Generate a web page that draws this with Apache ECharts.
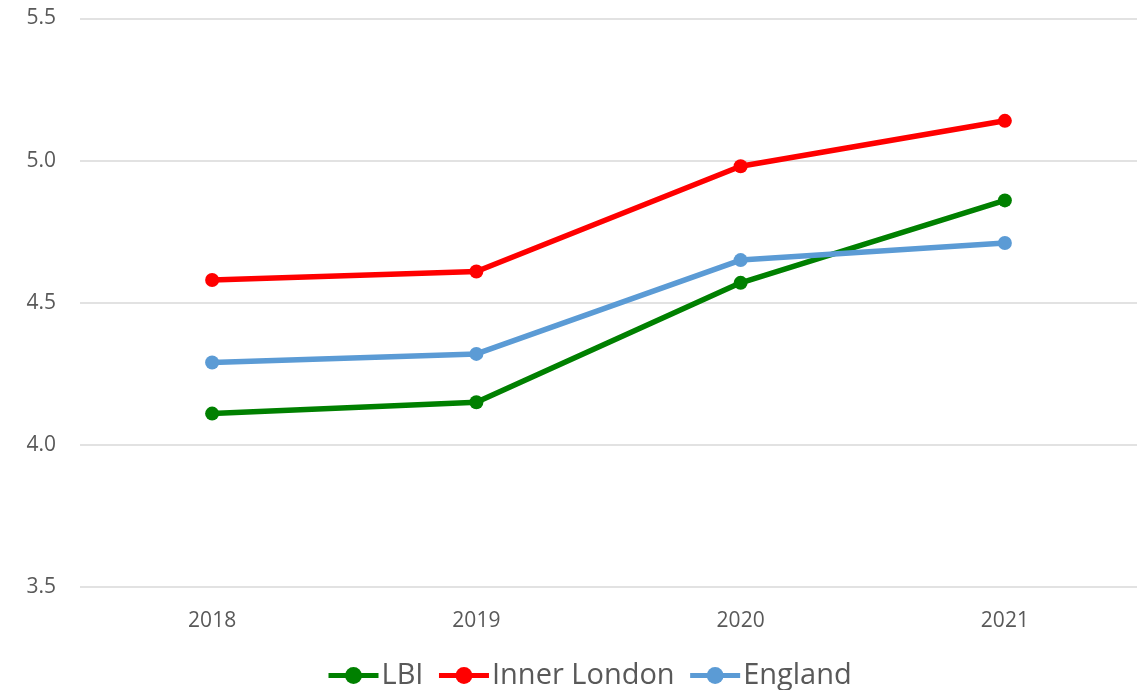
<!DOCTYPE html>
<html>
<head>
<meta charset="utf-8">
<script src="https://cdn.jsdelivr.net/npm/echarts@6/dist/echarts.min.js"></script>
<style>
  html, body { margin: 0; padding: 0; background: #fff; }
  #chart { width: 1146px; height: 690px; }
</style>
</head>
<body>
<div id="chart"></div>
<script>
// Years on the category axis
const years = ['2018', '2019', '2020', '2021'];

// Series values
const lbi = [4.11, 4.15, 4.57, 4.86];
const innerLondon = [4.58, 4.61, 4.98, 5.14];
const england = [4.29, 4.32, 4.65, 4.71];

const chart = echarts.init(document.getElementById('chart'));

function lineSeries(name, data, color) {
  return {
    name: name,
    type: 'line',
    data: data,
    symbol: 'circle',
    symbolSize: 14,
    lineStyle: { width: 5.5, color: color },
    itemStyle: { color: color },
    emphasis: { disabled: true },
    animation: false
  };
}

chart.setOption({
  backgroundColor: '#ffffff',
  textStyle: { fontFamily: 'Open Sans, Noto Sans, sans-serif' },
  grid: { left: 80, right: 9, top: 18.5, bottom: 103 },
  legend: {
    bottom: -5,
    left: 321,
    itemWidth: 50,
    itemHeight: 21,
    itemGap: 13,
    lineStyle: { width: 5 },
    textStyle: { fontSize: 29, color: '#595959', padding: [0, 0, 0, -2] },
    data: ['LBI', 'Inner London', 'England']
  },
  xAxis: {
    type: 'category',
    data: years,
    boundaryGap: true,
    axisLine: { show: false },
    axisTick: { show: false },
    axisLabel: { fontSize: 21, color: '#595959', margin: 24 }
  },
  yAxis: {
    type: 'value',
    min: 3.5,
    max: 5.5,
    interval: 0.5,
    axisLine: { show: false },
    axisTick: { show: false },
    splitLine: { lineStyle: { color: '#d9d9d9', width: 1.5 } },
    axisLabel: {
      fontSize: 21,
      color: '#595959',
      margin: 24,
      formatter: v => v.toFixed(1)
    }
  },
  series: [
    lineSeries('LBI', lbi, '#008000'),
    lineSeries('Inner London', innerLondon, '#ff0000'),
    lineSeries('England', england, '#5b9bd5')
  ]
});
</script>
</body>
</html>
